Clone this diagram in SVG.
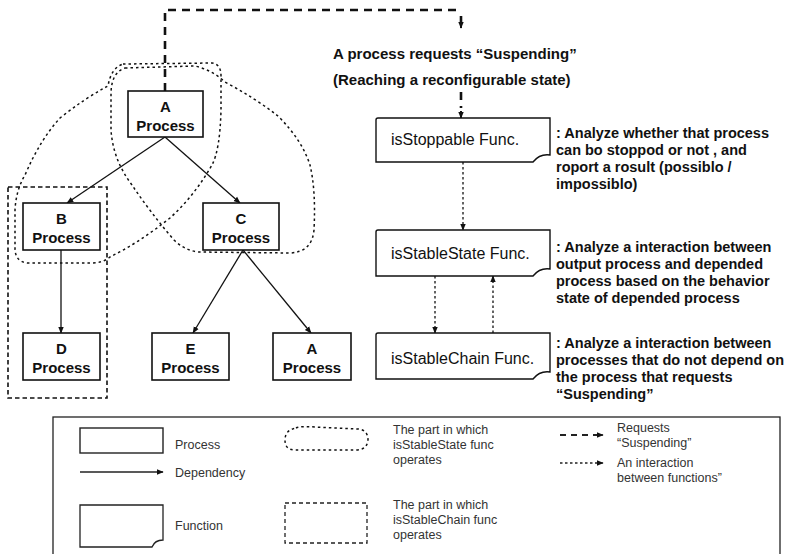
<svg xmlns="http://www.w3.org/2000/svg" width="793" height="554" viewBox="0 0 793 554">
<style>
text{font-family:"Liberation Sans",Arial,sans-serif;fill:#111}
.title{font-size:15px;font-weight:bold}
.desc{font-size:14.5px;font-weight:bold}
.pl{font-size:15px;font-weight:bold;text-anchor:middle}
.fl{font-size:16px}
.leg{font-size:12.5px;fill:#333}
.box{fill:#fff;stroke:#111;stroke-width:1.6}
.fn{fill:#fff;stroke:#111;stroke-width:1.4}
.dep{fill:none;stroke:#111;stroke-width:1.3;marker-end:url(#ah)}
.req{fill:none;stroke:#111;stroke-width:2.6;stroke-dasharray:8 6}
.int{fill:none;stroke:#111;stroke-width:1.3;stroke-dasharray:2.5 2.5}
.cloud{fill:none;stroke:#111;stroke-width:1.5;stroke-dasharray:2.5 3}
.chain{fill:none;stroke:#111;stroke-width:1.6;stroke-dasharray:4.5 3}
</style>
<defs>
<marker id="ah" viewBox="0 0 10 10" refX="9" refY="5" markerWidth="7" markerHeight="7" markerUnits="userSpaceOnUse" orient="auto"><path d="M0,1 L10,5 L0,9 Z" fill="#111"/></marker>
</defs>

<g id="regions">
<path class="cloud" d="M123,64 L212,63 Q221,64 221,76 L221,110 Q220,150 212,165 Q195,195 170,218 Q140,242 110,257 Q103,263 92,263 L28,263 Q15,262 15,248 L15,210 Q16,190 25,175 Q40,140 60,118 Q85,98 108,86 Q111,68 123,64 Z"/>
<path class="cloud" d="M125,68 L195,66 Q212,70 225,82 Q255,98 278,116 Q302,140 310,165 Q316,190 314,230 Q312,252 290,253 L198,252 Q184,250 174,240 Q150,212 132,185 Q113,160 111,130 L111,92 Q112,72 125,68 Z"/>
<rect class="chain" x="8" y="187" width="99" height="211"/>
</g>

<g id="connectors">
<path class="dep" d="M165,137 L67,203"/>
<path class="dep" d="M165,137 L240,203"/>
<path class="dep" d="M61,250 L61,333"/>
<path class="dep" d="M243,250 L193,333"/>
<path class="dep" d="M243,250 L311,333"/>
<path class="req" d="M165,91 V10 H459"/>
<path class="req" d="M461,16 V24"/>
<path d="M461,22 V28" stroke="#111" stroke-width="2" marker-end="url(#ah)"/>
<path class="req" d="M461,92 V108"/>
<path d="M461,111 V118" stroke="#111" stroke-width="2" marker-end="url(#ah)"/>
<path class="int" d="M463,162 V230" marker-end="url(#ah)"/>
<path class="int" d="M435,276 V333" marker-end="url(#ah)"/>
<path class="int" d="M493,333 V276" marker-end="url(#ah)"/>
</g>

<g id="procA"><rect class="box" x="128" y="91" width="75" height="46"/><text class="pl" x="165.5" y="112">A</text><text class="pl" x="165.5" y="131">Process</text></g>
<g id="procB"><rect class="box" x="23" y="203" width="77" height="47"/><text class="pl" x="61.5" y="224">B</text><text class="pl" x="61.5" y="243">Process</text></g>
<g id="procC"><rect class="box" x="203" y="203" width="76" height="47"/><text class="pl" x="241" y="224">C</text><text class="pl" x="241" y="243">Process</text></g>
<g id="procD"><rect class="box" x="23" y="333" width="77" height="47"/><text class="pl" x="61.5" y="354">D</text><text class="pl" x="61.5" y="373">Process</text></g>
<g id="procE"><rect class="box" x="152" y="333" width="77" height="47"/><text class="pl" x="190.5" y="354">E</text><text class="pl" x="190.5" y="373">Process</text></g>
<g id="procA2"><rect class="box" x="273" y="333" width="78" height="47"/><text class="pl" x="312" y="354">A</text><text class="pl" x="312" y="373">Process</text></g>

<g id="request">
<text class="title" x="333" y="59">A process requests “Suspending”</text>
<text class="title" x="333" y="85">(Reaching a reconfigurable state)</text>
</g>

<g id="isStoppable">
<path class="fn" d="M378,118 H550 V155 C543,154 537,157 533,162 H376 V120 Q376,118 378,118 Z"/>
<text class="fl" x="391" y="145">isStoppable Func.</text>
<text class="desc" x="556" y="138">: Analyze whether that process</text>
<text class="desc" x="556" y="155">can bo stoppod or not , and</text>
<text class="desc" x="556" y="172">roport a rosult (possiblo /</text>
<text class="desc" x="556" y="189">impossiblo)</text>
</g>
<g id="isStableState">
<path class="fn" d="M378,230 H550 V269 C543,268 537,271 533,276 H376 V232 Q376,230 378,230 Z"/>
<text class="fl" x="391" y="259">isStableState Func.</text>
<text class="desc" x="556" y="252">: Analyze a interaction between</text>
<text class="desc" x="556" y="269">output process and depended</text>
<text class="desc" x="556" y="286">process based on the behavior</text>
<text class="desc" x="556" y="303">state of depended process</text>
</g>
<g id="isStableChain">
<path class="fn" d="M378,333 H550 V372 C543,371 537,374 533,379 H376 V335 Q376,333 378,333 Z"/>
<text class="fl" x="391" y="364">isStableChain Func.</text>
<text class="desc" x="556" y="348">: Analyze a interaction between</text>
<text class="desc" x="556" y="365">processes that do not depend on</text>
<text class="desc" x="556" y="382">the process that requests</text>
<text class="desc" x="556" y="399">“Suspending”</text>
</g>

<g id="legend">
<rect x="53" y="417" width="727" height="150" fill="none" stroke="#222" stroke-width="1.3"/>
<rect x="80" y="428" width="83" height="25" fill="none" stroke="#222" stroke-width="1.4"/>
<text class="leg" x="175" y="449">Process</text>
<path d="M80,472 H163" stroke="#222" stroke-width="1.3" marker-end="url(#ah)"/>
<text class="leg" x="175" y="477">Dependency</text>
<path d="M80,505 H163 V540 C158,540 154,542 152,547 H80 Z" fill="none" stroke="#222" stroke-width="1.3"/>
<text class="leg" x="175" y="530">Function</text>
<path class="cloud" d="M296,428 Q300,426 315,427 L358,429 Q368,430 368,440 Q367,450 356,450 L295,450 Q285,450 285,440 Q285,430 296,428 Z"/>
<rect x="285" y="503" width="82" height="40" fill="none" stroke="#222" stroke-width="1.3" stroke-dasharray="4 3"/>
<text class="leg" x="393" y="434">The part in which</text>
<text class="leg" x="393" y="449">isStableState func</text>
<text class="leg" x="393" y="464">operates</text>
<text class="leg" x="393" y="509">The part in which</text>
<text class="leg" x="393" y="524">isStableChain func</text>
<text class="leg" x="393" y="539">operates</text>
<path d="M560,435 H600" stroke="#222" stroke-width="2" stroke-dasharray="6 5" fill="none"/>
<path d="M598,435 H603" stroke="#222" stroke-width="1.5" marker-end="url(#ah)"/>
<path d="M560,463 H600" stroke="#222" stroke-width="1.3" stroke-dasharray="2.5 2.5" fill="none"/>
<path d="M598,463 H603" stroke="#222" stroke-width="1.3" marker-end="url(#ah)"/>
<text class="leg" x="617" y="432">Requests</text>
<text class="leg" x="617" y="447">“Suspending”</text>
<text class="leg" x="617" y="467">An interaction</text>
<text class="leg" x="617" y="482">between functions”</text>
</g>
</svg>
